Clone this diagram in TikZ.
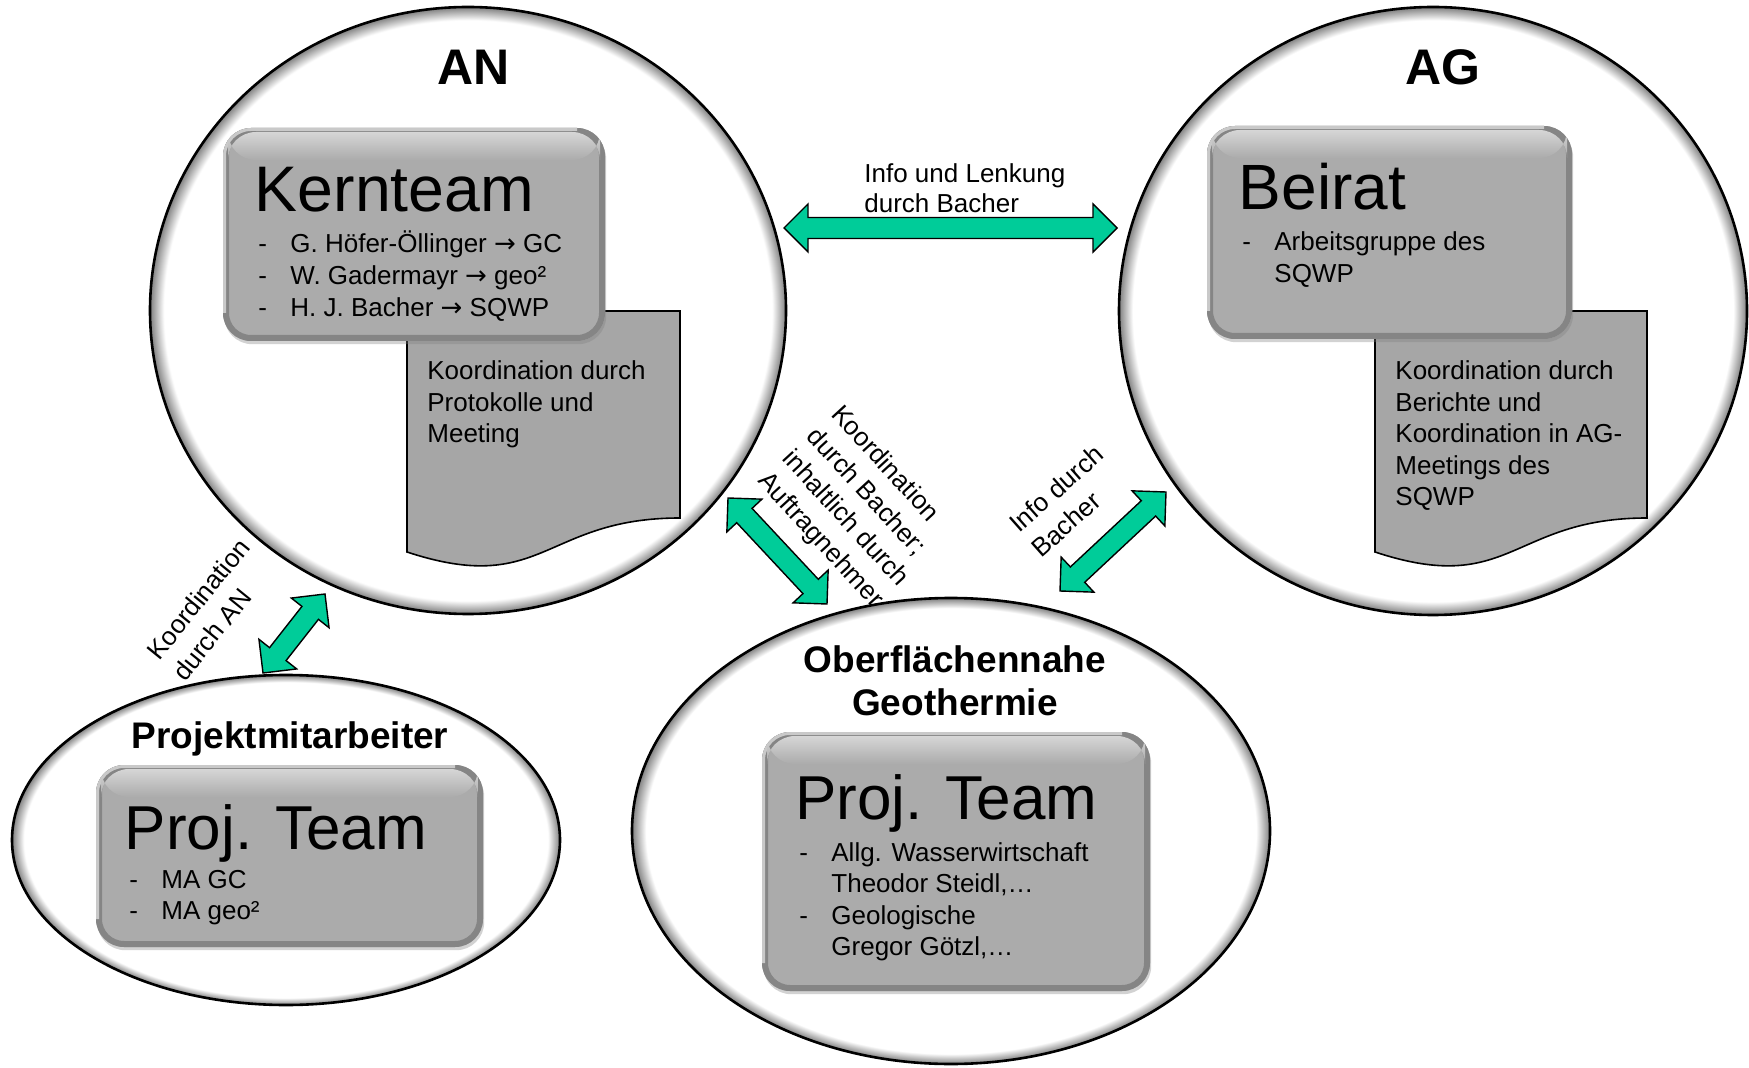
\documentclass[tikz,border=0pt]{standalone}
\usepackage{fontspec}
\setmainfont{Liberation Sans}
\newfontfamily\arrowfont{DejaVu Sans}
\usetikzlibrary{calc,shadows}
\definecolor{arrgreen}{HTML}{00CC99}
\definecolor{boxgray}{HTML}{ABABAB}
\definecolor{boxdark}{HTML}{858585}
\definecolor{boxlight}{HTML}{D6D6D6}
\definecolor{docgray}{HTML}{A6A6A6}
\pgfdeclareradialshading{ellbevel}{\pgfpoint{0bp}{0bp}}{color(0bp)=(white); color(23.9bp)=(white); color(25bp)=(black!50); color(50bp)=(black!50)}
\newcommand\greenarrow[2]{%
 \draw[arrowshape] (#1) -- ($(#1)!12pt!(#2)!12pt!90:(#2)$) -- ($(#1)!12pt!(#2)!5.25pt!90:(#2)$)
 -- ($(#2)!12pt!(#1)!5.25pt!-90:(#1)$) -- ($(#2)!12pt!(#1)!12pt!-90:(#1)$) -- (#2)
 -- ($(#2)!12pt!(#1)!12pt!90:(#1)$) -- ($(#2)!12pt!(#1)!5.25pt!90:(#1)$)
 -- ($(#1)!12pt!(#2)!5.25pt!-90:(#2)$) -- ($(#1)!12pt!(#2)!12pt!-90:(#2)$) -- cycle;}
\newcommand\bevelellipse[5]{%
 \coordinate (#1) at (#2,#3);
 \shade[shading=ellbevel] (#1) ellipse ({#4} and {#5});
 \draw[ellline] (#1) ellipse ({#4} and {#5});}
\newcommand\rarr{{\arrowfont →}}
\tikzset{
 ellline/.style={draw=black, line width=1.3pt},
 docshape/.style={fill=docgray, draw=black, line width=0.8pt},
 arrowshape/.style={fill=arrgreen, draw=black, line width=0.7pt},
 teambox/.style={rectangle, rounded corners=14pt, fill=boxgray, inner sep=0pt,
   drop shadow={opacity=0.35, shadow xshift=0.6pt, shadow yshift=-1.6pt},
   path picture={
     \draw[boxdark, line width=6pt, rounded corners=14pt] (path picture bounding box.south west) rectangle (path picture bounding box.north east);
     \draw[boxlight!70!boxgray, line width=3pt, rounded corners=14pt] ($(path picture bounding box.south west)+(0,14pt)$) -- (path picture bounding box.north west) -- ($(path picture bounding box.north east)+(-14pt,0)$);
     \shade[top color=boxlight, bottom color=boxgray] ($(path picture bounding box.north west)+(2.5pt,-2pt)$) rectangle ($(path picture bounding box.north east)+(-2.5pt,-16pt)$);}},
 smalltxt/.style={font=\fontsize{13}{15.8}\selectfont, inner sep=0pt, anchor=base west},
 bigtxt/.style={font=\fontsize{31}{36}\selectfont, inner sep=0pt, anchor=base west},
 headtxt/.style={font=\bfseries\fontsize{25}{30}\selectfont, inner sep=0pt, anchor=base},
 titletxt/.style={font=\bfseries\fontsize{18.5}{21.5}\selectfont, inner sep=0pt, anchor=base},
 rotlabel/.style={font=\fontsize{13}{16.5}\selectfont, inner sep=0pt, anchor=center}
}
\begin{document}
\begin{tikzpicture}[x=0.5pt,y=-0.5pt]
\useasboundingbox (0,0) rectangle (1749,1068);
% circles
\bevelellipse{AN}{468}{310.5}{318}{303.5}
\bevelellipse{AG}{1433}{311}{314}{304}
\bevelellipse{PM}{286}{840}{274}{165}
\bevelellipse{OG}{951}{831}{319}{233}
% documents
\draw[docshape] (407,311) -- (680,311) -- (680,518) .. controls (543.5,518) and (543.5,597) .. (407,552) -- cycle;
\draw[docshape] (1375,311) -- (1647,311) -- (1647,518) .. controls (1511,518) and (1511,597) .. (1375,552) -- cycle;
% boxes
\node[teambox, minimum width=191pt, minimum height=106.5pt] (kernBox) at (414,234.5) {};
\node[teambox, minimum width=182.5pt, minimum height=106.5pt] (beiBox) at (1389.5,232.5) {};
\node[teambox, minimum width=193.5pt, minimum height=91pt] (pm1Box) at (289.5,856) {};
\node[teambox, minimum width=194pt, minimum height=129.5pt] (pm2Box) at (956,861.5) {};
% headings
\node[headtxt] (anT) at (474,85) {AN};
\node[headtxt] (agT) at (1443,85) {AG};
\node[titletxt] (pmTitle) at (290,748) {Projektmitarbeiter};
\node[titletxt] (ogTitle) at (955,672) {\begin{tabular}[t]{@{}c@{}}Oberflächennahe\\Geothermie\end{tabular}};
% Kernteam
\node[bigtxt, font=\fontsize{32.2}{36}\selectfont] (kernT) at (254.5,212) {Kernteam};
\node[smalltxt] (kernL) at (258,253) {\begin{tabular}[t]{@{}p{16pt}@{}l@{}}-&G. Höfer-Öllinger \rarr{} GC\\-&W. Gadermayr \rarr{} geo²\\-&H. J. Bacher \rarr{} SQWP\end{tabular}};
\node[smalltxt] (kernD) at (427,379.5) {\begin{tabular}[t]{@{}l@{}}Koordination durch\\Protokolle und\\Meeting\end{tabular}};
% Beirat
\node[bigtxt, font=\fontsize{32}{36}\selectfont] (beiT) at (1238.5,210) {Beirat};
\node[smalltxt] (beiL) at (1242,251) {\begin{tabular}[t]{@{}p{16pt}@{}l@{}}-&Arbeitsgruppe des\\&SQWP\end{tabular}};
\node[smalltxt] (beiD) at (1395,379.5) {\begin{tabular}[t]{@{}l@{}}Koordination durch\\Berichte und\\Koordination in AG-\\Meetings des\\SQWP\end{tabular}};
% Proj. Team 1
\node[bigtxt] (pm1T) at (124.5,849) {Proj. Team};
\node[smalltxt] (pm1L) at (129,888) {\begin{tabular}[t]{@{}p{16pt}@{}l@{}}-&MA GC\\-&MA geo²\end{tabular}};
% Proj. Team 2
\node[bigtxt] (pm2T) at (795,819) {Proj. Team};
\node[smalltxt] (pm2L) at (799,861) {\begin{tabular}[t]{@{}p{16pt}@{}l@{}}-&Allg. Wasserwirtschaft\\&Theodor Steidl,…\\-&Geologische\\&Gregor Götzl,…\end{tabular}};
% connector labels
\node[smalltxt, font=\fontsize{13}{15}\selectfont] (infoL) at (864,183) {\begin{tabular}[t]{@{}l@{}}Info und Lenkung\\durch Bacher\end{tabular}};
\node[rotlabel, rotate=51] (lab1) at (213,611) {\begin{tabular}{@{}l@{}}Koordination\\durch AN\end{tabular}};
\node[rotlabel, rotate=-47.5] (lab2) at (857,508) {\begin{tabular}{@{}l@{}}Koordination\\durch Bacher;\\inhaltlich durch\\Auftragnehmer\end{tabular}};
\node[rotlabel, rotate=41.5] (lab3) at (1069,503) {\begin{tabular}{@{}l@{}}Info durch\\Bacher\end{tabular}};
% arrows
\coordinate (h1) at (784,228); \coordinate (h2) at (1117,228);
\coordinate (p1) at (263,673); \coordinate (p2) at (325,594);
\coordinate (o1) at (728,498); \coordinate (o2) at (827,604);
\coordinate (g1) at (1060,591); \coordinate (g2) at (1166,492);
\greenarrow{h1}{h2}
\greenarrow{p1}{p2}
\greenarrow{o1}{o2}
\greenarrow{g1}{g2}
\end{tikzpicture}
\end{document}
